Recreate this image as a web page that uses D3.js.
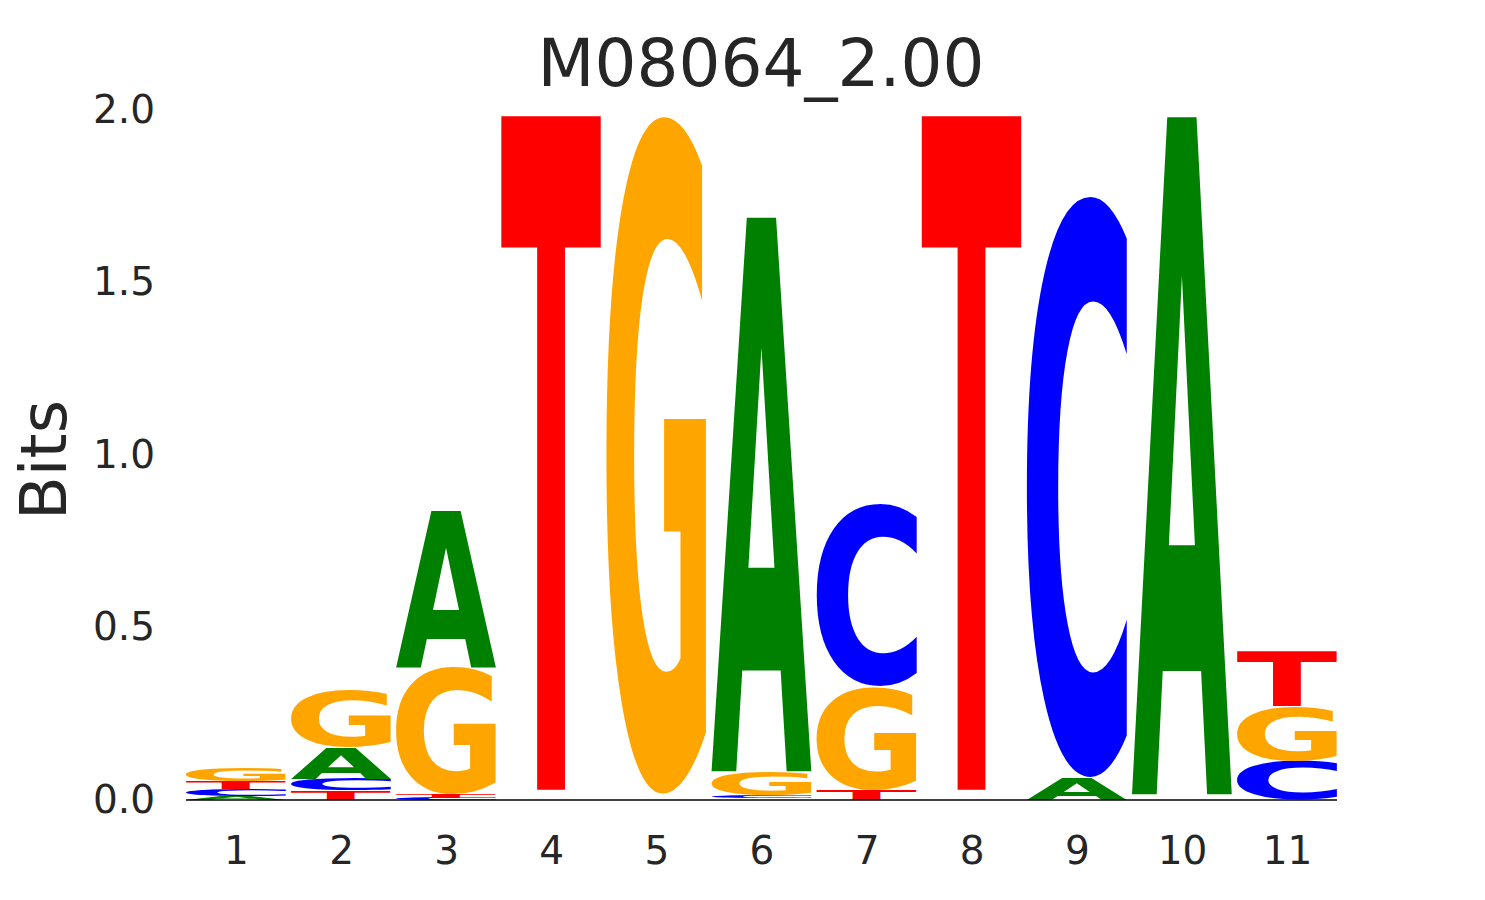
<!DOCTYPE html>
<html>
<head>
<meta charset="utf-8">
<script src="https://cdn.jsdelivr.net/npm/d3@7"></script>
<style>
  body { margin: 0; background: #fff; }
  text { font-family: "DejaVu Sans", sans-serif; }
</style>
</head>
<body>
<svg id="logo" width="1485" height="900"></svg>
<script>
// motif positions and information (bits) per letter
var positions = [1, 2, 3, 4, 5, 6, 7, 8, 9, 10, 11];
var bitsA = [0.012, 0.092, 0.452, 0.0055, 0.0055, 1.607, 0.000, 0.0055, 0.065, 1.965, 0.000];
var bitsC = [0.019, 0.033, 0.006, 0.0055, 0.0055, 0.008, 0.531, 0.0055, 1.689, 0.0055, 0.112];
var bitsG = [0.038, 0.163, 0.370, 0.0055, 1.970, 0.070, 0.299, 0.0055, 0.000, 0.0055, 0.158];
var bitsT = [0.024, 0.028, 0.010, 1.968, 0.0055, 0.005, 0.029, 1.968, 0.000, 0.0055, 0.160];
var yTicks = [0.0, 0.5, 1.0, 1.5, 2.0];
var title = "M08064_2.00";

var letterColor = {A: "#008000", C: "#0000ff", G: "#ffa500", T: "#ff0000"};
var letterBits = {A: bitsA, C: bitsC, G: bitsG, T: bitsT};

var svg = d3.select("#logo");

var xScale = d3.scaleLinear().domain([0.525, 11.475]).range([186, 1337]);
var yScale = d3.scaleLinear().domain([0, 2]).range([800, 110]);
var band = (xScale(2) - xScale(1)) * 0.95;

// find the ink box of each glyph by drawing it and scanning the pixels,
// so every letter can be stretched to fill its cell exactly
var fontSize = 200;
var ink = {};
Object.keys(letterColor).forEach(function(c) {
  var cv = document.createElement("canvas");
  cv.width = 400; cv.height = 400;
  var ctx = cv.getContext("2d");
  ctx.font = "bold " + fontSize + "px 'DejaVu Sans'";
  ctx.fillStyle = "#000";
  var ox = 100, oy = 300;
  ctx.fillText(c, ox, oy);
  var px = ctx.getImageData(0, 0, 400, 400).data;
  var x0 = 400, x1 = 0, y0 = 400, y1 = 0;
  for (var y = 0; y < 400; y++) {
    for (var x = 0; x < 400; x++) {
      if (px[(y * 400 + x) * 4 + 3] > 10) {
        if (x < x0) x0 = x;
        if (x > x1) x1 = x;
        if (y < y0) y0 = y;
        if (y > y1) y1 = y;
      }
    }
  }
  ink[c] = {l: ox - x0, r: x1 + 1 - ox, a: oy - y0, d: y1 + 1 - oy};
});

// build stacks: smallest letter at the bottom
var glyphs = [];
positions.forEach(function(p, i) {
  var col = Object.keys(letterBits).map(function(c) {
    return {letter: c, value: letterBits[c][i]};
  });
  col.sort(function(a, b) { return a.value - b.value; });
  var base = 0;
  col.forEach(function(d) {
    glyphs.push({pos: p, letter: d.letter, y0: base, y1: base + d.value});
    base += d.value;
  });
});

var g = svg.append("g");
g.selectAll("text.glyph")
  .data(glyphs.filter(function(d) { return d.y1 - d.y0 >= 0.006; }))
  .enter().append("text")
  .attr("class", "glyph")
  .attr("font-size", fontSize)
  .attr("font-weight", "bold")
  .attr("fill", function(d) { return letterColor[d.letter]; })
  .attr("transform", function(d) {
    var m = ink[d.letter];
    var bx = xScale(d.pos) - band / 2;
    var by = yScale(d.y1);
    var bh = yScale(d.y0) - yScale(d.y1);
    var sx = band / (m.l + m.r);
    var sy = bh / (m.a + m.d);
    return "translate(" + (bx + m.l * sx) + "," + (by + m.a * sy) + ") scale(" + sx + "," + sy + ")";
  })
  .text(function(d) { return d.letter; });

// axes
var xAxis = d3.axisBottom(xScale).tickValues(positions).tickSize(0).tickPadding(36)
  .tickFormat(d3.format("d"));
var yAxis = d3.axisLeft(yScale).tickValues(yTicks).tickSize(0).tickPadding(31)
  .tickFormat(d3.format(".1f"));

var gx = svg.append("g").attr("transform", "translate(0,800)").call(xAxis);
gx.select(".domain").remove();
gx.selectAll("text").attr("font-size", 39).attr("fill", "#262626")
  .attr("font-family", "DejaVu Sans");

var gy = svg.append("g").attr("transform", "translate(186,0)").call(yAxis);
gy.select(".domain").remove();
gy.selectAll("text").attr("font-size", 39).attr("fill", "#262626")
  .attr("font-family", "DejaVu Sans");

// bottom spine
svg.append("line")
  .attr("x1", xScale(0.525)).attr("x2", xScale(11.475))
  .attr("y1", 800).attr("y2", 800)
  .attr("stroke", "#000").attr("stroke-width", 1.3);

svg.append("text")
  .attr("x", 761).attr("y", 86)
  .attr("text-anchor", "middle")
  .attr("font-size", 66)
  .attr("fill", "#262626")
  .text(title);

svg.append("text")
  .attr("transform", "translate(66,460) rotate(-90)")
  .attr("text-anchor", "middle")
  .attr("font-size", 64)
  .attr("fill", "#262626")
  .text("Bits");
</script>
</body>
</html>
